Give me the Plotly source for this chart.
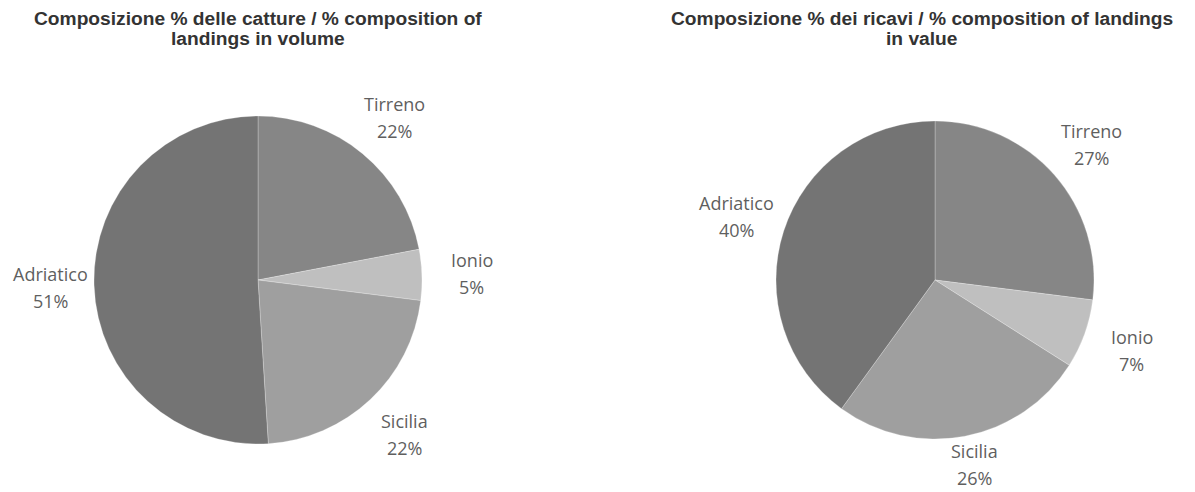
import math
import plotly.graph_objects as go

regions = ["Tirreno", "Ionio", "Sicilia", "Adriatico"]
volume_pct = [22, 5, 22, 51]
value_pct = [27, 7, 26, 40]
slice_colors = ["#868686", "#bfbfbf", "#9f9f9f", "#747474"]

title_left = ["Composizione % delle catture / % composition of", "landings in volume"]
title_right = ["Composizione % dei ricavi / % composition of landings", "in value"]

# the page body has an 8px margin, so the figure is a bit smaller than the window
OFF = 8
W, H = 1195 - OFF, 492 - OFF


def px(x, y):
    # window pixel -> paper coords
    return (x - OFF) / W, 1 - (y - OFF) / H


pies = [
    dict(vals=volume_pct, cx=258, cy=280, r=164, title=title_left, tx=258),
    dict(vals=value_pct, cx=935, cy=280, r=159, title=title_right, tx=922),
]

fig = go.Figure()
annotations = []
label_font = dict(family="Open Sans", size=18, color="#5f5f5f")
for p in pies:
    cx, cy, r = p["cx"], p["cy"], p["r"]
    x0, y0 = px(cx - r, cy + r)
    x1, y1 = px(cx + r, cy - r)
    fig.add_trace(go.Pie(
        labels=regions, values=p["vals"], sort=False, direction="clockwise",
        rotation=0, textinfo="none", hoverinfo="label+percent",
        marker=dict(colors=slice_colors, line=dict(width=1, color="rgba(255,255,255,0.25)")),
        domain=dict(x=[x0, x1], y=[y0, y1]),
        showlegend=False,
    ))
    # outside labels at each slice's mid angle, kept inside the page
    total = sum(p["vals"])
    cum = 0
    for name, v in zip(regions, p["vals"]):
        a = math.radians((cum + v / 2) / total * 360)
        cum += v
        ux, uy = math.sin(a), -math.cos(a)
        lx = min(max(cx + ux * (r + 50), OFF + 42), 1195 - 42)
        ly = min(max(cy + uy * (r + 47), 80), 492 - 28)
        for txt, dy in ((name, -13), (f"{v}%", 14)):
            ax, ay = px(lx, ly + dy)
            annotations.append(dict(
                x=ax, y=ay, xref="paper", yref="paper", text=txt,
                showarrow=False, xanchor="center", yanchor="middle",
                font=label_font,
            ))
    for line, ty in zip(p["title"], (19, 39)):
        ax, ay = px(p["tx"], ty)
        annotations.append(dict(
            x=ax, y=ay, xref="paper", yref="paper", text="<b>" + line + "</b>",
            showarrow=False, xanchor="center", yanchor="middle",
            font=dict(family="Liberation Sans", size=19.2, color="#333333"),
        ))

fig.update_layout(
    width=W, height=H, margin=dict(l=0, r=0, t=0, b=0),
    paper_bgcolor="white", plot_bgcolor="white",
    annotations=annotations,
)

fig.write_html("out.html")
